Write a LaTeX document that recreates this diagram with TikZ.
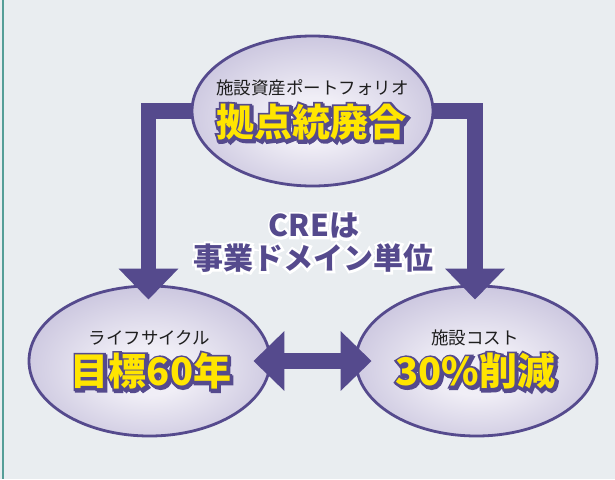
\documentclass[tikz,border=0pt]{standalone}
\usepackage{fontspec}
\usetikzlibrary{arrows.meta,shapes.geometric}
\newfontfamily\jp{Noto Sans CJK JP}
\newfontfamily\jpo{Noto Sans CJK JP}[BoldFeatures={FakeBold=12}]
\newfontfamily\jpw{Noto Sans CJK JP}[BoldFeatures={FakeBold=16}]
\definecolor{bgc}{HTML}{E9EDF0}
\definecolor{purp}{HTML}{554A8D}
\definecolor{lavin}{HTML}{F0EEF6}
\definecolor{lavout}{HTML}{A098C4}
\definecolor{yel}{HTML}{FFE500}
\definecolor{teal}{HTML}{559E97}
\definecolor{txt}{HTML}{1E1E1E}
\pgfdeclareradialshading{ellshade}{\pgfpoint{0bp}{-4bp}}{color(0bp)=(lavin); color(8bp)=(lavin); color(50bp)=(lavout)}
% outlined big text: purple emboldened copy + shadow, yellow on top
\newcommand\bigtxt[1]{%
  \rlap{\hspace*{1.4pt}\raisebox{-1.4pt}{\jpo\bfseries\color{purp}#1}}%
  \rlap{\jpo\bfseries\color{purp}#1}%
  {\color{yel}#1}}
% purple text with white halo
\newcommand\halotxt[1]{%
  \rlap{\jpw\bfseries\color{white}#1}%
  {\color{purp}#1}}
\begin{document}
\begin{tikzpicture}[x=1pt,y=-1pt,
  ell/.style={ellipse, draw=purp, line width=2.8pt, shading=ellshade,
    minimum width=241pt, minimum height=150pt, inner sep=0pt},
  small/.style={font=\jp\fontsize{17.5}{20}\selectfont, text=txt, inner sep=0pt},
  big/.style={font=\jp\bfseries\fontsize{38}{42}\selectfont, inner sep=0pt},
  cre/.style={font=\jp\bfseries\fontsize{30}{32}\selectfont, inner sep=0pt},
  fat/.style={line width=15.5pt, color=purp, line join=miter},
  head/.style={-{Triangle[width=58pt,length=31pt]}}
]
\fill[bgc] (0,0) rectangle (615,479);
\useasboundingbox (0,0) rectangle (615,479);
\draw[teal, line width=2pt] (3,0) -- (3,479);

\node[ell] (top) at (312.5,111) {};
\node[ell] (lft) at (149.5,361) {};
\node[ell] (rgt) at (476.5,361) {};

\draw[fat, head, shorten >=-15pt] (top.west) -| ([xshift=-1pt]lft.north);
\draw[fat, head, shorten >=-15pt] (top.east) -| ([xshift=-1.5pt]rgt.north);
\draw[fat, {Triangle[width=58pt,length=31pt]}-{Triangle[width=58pt,length=31pt]},
  shorten <=-18pt, shorten >=-17pt] (lft.east) -- (rgt.west);

\node[small] (t1) at (312.5,88) {施設資産ポートフォリオ};
\node[big] (t2) at (311.5,123) {\bigtxt{拠点統廃合}};
\node[small] (l1) at (149.5,338) {ライフサイクル};
\node[big] (l2) at (151,372) {\bigtxt{目標60年}};
\node[small] (r1) at (475,338) {施設コスト};
\node[big] (r2) at (475.5,372) {\bigtxt{30\%削減}};

\node[cre] (c1) at (314,226) {\halotxt{CREは}};
\node[cre] (c2) at (313.5,258) {\halotxt{事業ドメイン単位}};
\end{tikzpicture}
\end{document}
